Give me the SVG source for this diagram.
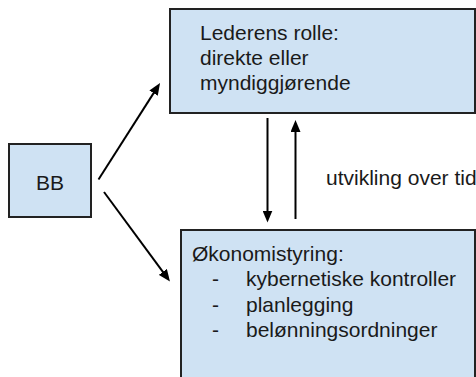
<svg xmlns="http://www.w3.org/2000/svg" width="476" height="377" viewBox="0 0 476 377">
<style>
.box{fill:#cfe2f3;stroke:#222;stroke-width:2}
.t{font-family:"Liberation Sans",Arial,sans-serif;font-size:21px;fill:#1a1a1a}
.c{stroke:#000;stroke-width:2;fill:none;marker-end:url(#ah)}
</style>
<defs>
<marker id="ah" markerUnits="userSpaceOnUse" markerWidth="12" markerHeight="10" refX="6" refY="5" orient="auto">
<path d="M0,0 L12,5 L0,10 z" fill="#000"/>
</marker>
</defs>
<rect width="476" height="377" fill="#fff"/>
<g id="leder">
<rect class="box" x="170" y="9" width="305" height="104"/>
<text class="t" x="200" y="40">Lederens rolle:</text>
<text class="t" x="200" y="65">direkte eller</text>
<text class="t" x="200" y="90">myndiggjørende</text>
</g>
<g id="bb">
<rect class="box" x="9" y="144" width="82" height="73"/>
<text class="t" x="50" y="190" text-anchor="middle">BB</text>
</g>
<g id="okonomi">
<rect class="box" x="181" y="230" width="294" height="160"/>
<text class="t" x="192" y="261">Økonomistyring:</text>
<text class="t" x="212" y="286">-</text>
<text class="t" x="246" y="286">kybernetiske kontroller</text>
<text class="t" x="212" y="311.5">-</text>
<text class="t" x="246" y="311.5">planlegging</text>
<text class="t" x="212" y="336.5">-</text>
<text class="t" x="246" y="336.5">belønningsordninger</text>
</g>
<g id="label">
<text class="t" x="326" y="185">utvikling over tid</text>
</g>
<g id="connectors">
<line class="c" x1="98.5" y1="179.5" x2="156.8" y2="88.1"/>
<line class="c" x1="104" y1="192" x2="166.4" y2="276.7"/>
<line class="c" x1="267.5" y1="118" x2="267.5" y2="216.5"/>
<line class="c" x1="295.5" y1="219" x2="295.5" y2="126"/>
</g>
</svg>
